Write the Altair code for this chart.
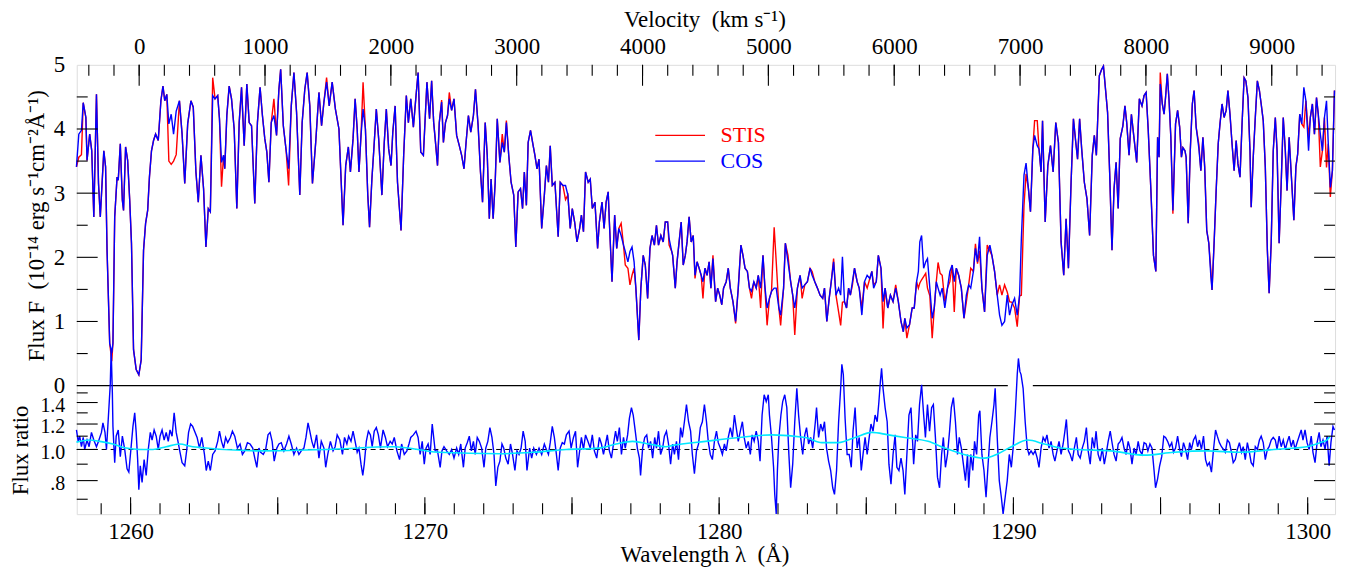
import altair as alt
import pandas as pd

W, H = 1263, 451          # plot area
H_FLUX = 322              # height of the upper (flux) panel inside the plot
LAM_MIN, LAM_MAX = 1258.17, 1300.93
V_MIN, V_MAX = -496, 9503
FONT = "Liberation Serif"
FS = 23
SP = "\u2002"

# ---------------- COS flux (wavelength [A], flux [1e-14 erg/s/cm2/A]) ----------------
cos_seg1 = [(1258.16,3.41),(1258.24,3.92),(1258.33,3.98),(1258.39,4.41),(1258.48,4.18),(1258.52,3.51),(1258.61,3.92),(1258.68,3.66),(1258.75,2.63),(1258.84,4.54),(1258.91,3.15),(1258.97,2.63),(1259.09,3.66),(1259.15,3.41),(1259.20,2.11),(1259.29,0.66),(1259.36,0.51),(1259.40,0.66),(1259.46,2.63),(1259.54,3.25),(1259.58,3.20),(1259.65,3.77),(1259.72,2.89),(1259.76,2.73),(1259.83,3.72),(1259.90,3.51),(1259.97,2.89),(1260.03,2.22),(1260.10,0.56),(1260.19,0.25),(1260.28,0.17),(1260.36,0.40),(1260.44,2.11),(1260.51,2.53),(1260.58,2.73),(1260.64,3.25),(1260.71,3.66),(1260.78,3.82),(1260.85,3.92),(1260.94,3.82),(1261.03,4.44),(1261.10,4.67),(1261.16,4.44),(1261.23,4.54),(1261.30,4.08),(1261.38,4.23),(1261.46,3.92),(1261.55,4.28),(1261.66,4.44),(1261.75,3.92),(1261.84,3.15),(1261.94,4.08),(1262.05,4.44),(1262.13,4.34)]
cos_seg2 = [(1262.22,3.33),(1262.30,2.86),(1262.39,3.59),(1262.48,3.07),(1262.56,2.16),(1262.64,2.76),(1262.71,2.71),(1262.79,4.52),(1262.87,4.47),(1262.96,4.52),(1263.02,4.16),(1263.09,3.48),(1263.16,3.59),(1263.20,3.38),(1263.27,4.21),(1263.35,4.67),(1263.43,4.47),(1263.52,4.00),(1263.61,2.76),(1263.69,4.10),(1263.77,4.65),(1263.86,3.74),(1263.95,4.70),(1264.03,4.10),(1264.11,4.05),(1264.22,2.84),(1264.31,4.10),(1264.40,4.65),(1264.48,4.21),(1264.56,3.85),(1264.63,3.64),(1264.70,3.17),(1264.78,4.10),(1264.87,4.21),(1264.96,3.90),(1265.04,4.62),(1265.10,4.93),(1265.19,4.05),(1265.28,3.69),(1265.37,3.38),(1265.46,4.36),(1265.55,4.88),(1265.64,4.26),(1265.75,2.97),(1265.83,4.10),(1265.92,4.62),(1266.00,4.88),(1266.09,4.36),(1266.18,3.15),(1266.29,3.79),(1266.40,4.57),(1266.49,4.05),(1266.57,4.42),(1266.66,4.73),(1266.75,4.36),(1266.85,4.73),(1266.96,4.31),(1267.08,4.00),(1267.22,2.50),(1267.31,3.43),(1267.40,3.72),(1267.47,3.33),(1267.56,3.85),(1267.63,4.47),(1267.70,4.00),(1267.76,3.33),(1267.83,3.90),(1267.90,4.31),(1267.98,4.00),(1268.06,2.97),(1268.12,2.47),(1268.20,3.22),(1268.26,3.64),(1268.35,4.31),(1268.43,3.85),(1268.54,2.97),(1268.62,3.79),(1268.69,4.31),(1268.77,3.69),(1268.85,3.43),(1268.91,3.95),(1268.99,4.36),(1269.07,3.17),(1269.19,2.42),(1269.28,3.59),(1269.37,4.52),(1269.44,4.10),(1269.52,4.47),(1269.61,4.03),(1269.70,4.52),(1269.77,4.88),(1269.86,3.64),(1269.95,3.59),(1270.07,4.73),(1270.16,4.16),(1270.23,4.75)]
cos_seg3 = [(1270.30,4.10),(1270.35,3.85),(1270.43,3.43),(1270.49,4.10),(1270.57,4.42),(1270.63,3.79),(1270.70,4.10),(1270.77,4.21),(1270.83,4.47),(1270.91,4.29),(1270.99,4.47),(1271.08,3.90),(1271.17,3.74),(1271.25,3.59),(1271.33,3.38),(1271.40,3.79),(1271.48,4.21),(1271.56,3.95),(1271.65,4.21),(1271.72,4.62),(1271.81,4.05),(1271.89,3.33),(1271.96,2.86),(1272.05,4.10),(1272.12,3.59),(1272.19,2.60),(1272.25,3.22),(1272.32,2.60),(1272.39,3.17),(1272.46,4.16),(1272.55,3.48),(1272.63,3.79),(1272.70,3.64),(1272.77,4.10),(1272.85,3.59),(1272.93,3.17),(1273.02,2.97),(1273.09,2.16),(1273.17,3.02),(1273.25,3.07),(1273.32,2.76),(1273.38,3.33),(1273.45,2.81),(1273.51,3.79),(1273.59,3.98),(1273.68,3.74),(1273.74,3.59),(1273.81,3.38),(1273.88,3.53),(1273.97,2.45),(1274.06,2.97),(1274.13,3.43),(1274.20,3.17),(1274.26,3.74),(1274.33,3.12),(1274.42,3.17),(1274.53,2.32),(1274.60,3.17),(1274.69,3.12),(1274.78,3.12),(1274.86,2.97),(1274.94,2.45),(1275.01,2.76),(1275.09,2.55),(1275.17,2.24),(1275.26,2.45),(1275.32,2.66),(1275.39,2.40),(1275.46,3.33),(1275.55,3.17),(1275.62,3.22),(1275.69,2.76),(1275.78,2.86),(1275.87,2.14),(1275.93,2.55),(1276.02,2.86),(1276.09,2.45),(1276.16,2.86),(1276.23,3.02),(1276.27,2.55),(1276.36,1.62),(1276.45,2.66),(1276.52,2.14),(1276.59,2.45),(1276.67,2.34),(1276.75,2.19),(1276.81,2.09),(1276.90,1.93),(1276.97,2.09),(1277.04,2.16),(1277.11,1.93),(1277.17,1.52),(1277.27,0.71),(1277.34,1.52),(1277.42,2.03),(1277.49,1.88),(1277.57,1.36),(1277.65,2.14),(1277.72,2.34),(1277.80,2.19),(1277.87,2.50),(1277.94,2.19),(1278.02,2.34),(1278.10,2.24),(1278.17,2.55),(1278.25,2.55),(1278.30,2.29),(1278.39,2.09)]
cos_seg4 = [(1278.42,2.03),(1278.51,1.52),(1278.57,1.93),(1278.64,2.24),(1278.71,2.55),(1278.78,1.88),(1278.85,2.03),(1278.91,2.24),(1278.98,2.63),(1279.05,2.24),(1279.12,2.34),(1279.18,1.72),(1279.25,1.93),(1279.32,1.83),(1279.39,1.72),(1279.45,1.62),(1279.52,1.83),(1279.59,1.72),(1279.66,1.93),(1279.72,1.52),(1279.79,1.98),(1279.88,1.31),(1279.95,1.52),(1280.02,1.41),(1280.09,1.26),(1280.15,1.52),(1280.24,1.62),(1280.31,1.83),(1280.38,1.52),(1280.47,1.31),(1280.56,1.00),(1280.65,1.52),(1280.74,2.19),(1280.81,2.03),(1280.88,1.83),(1280.96,1.78),(1281.03,1.52),(1281.10,1.47),(1281.18,1.62),(1281.26,1.52),(1281.33,1.72),(1281.41,1.52),(1281.49,2.03),(1281.55,1.57),(1281.63,1.21),(1281.71,1.36),(1281.78,1.47),(1281.87,1.52),(1281.94,1.52),(1282.03,1.21),(1282.09,1.10),(1282.19,1.52),(1282.25,2.22),(1282.34,1.93),(1282.43,1.62),(1282.50,1.41),(1282.57,1.21),(1282.66,1.52),(1282.75,1.72),(1282.82,1.52),(1282.91,1.57),(1283.00,1.62),(1283.09,1.83),(1283.16,1.72),(1283.25,1.62),(1283.34,1.52),(1283.43,1.41),(1283.52,1.36),(1283.58,1.52),(1283.66,1.00),(1283.74,1.36),(1283.81,1.62),(1283.89,1.93),(1283.97,1.41),(1284.06,1.52),(1284.13,1.41),(1284.19,2.01),(1284.26,1.31),(1284.33,1.21),(1284.40,1.52),(1284.46,1.41),(1284.53,1.62),(1284.60,1.83),(1284.69,1.62),(1284.76,1.52),(1284.85,1.10),(1284.94,1.62),(1285.03,1.72),(1285.12,1.67),(1285.19,1.78),(1285.25,1.52),(1285.34,1.62),(1285.41,2.03),(1285.50,1.83),(1285.57,1.31),(1285.64,1.52),(1285.73,1.21),(1285.82,1.41),(1285.91,1.31),(1286.00,1.52),(1286.09,1.31),(1286.18,1.00),(1286.26,0.84),(1286.31,1.05),(1286.38,0.90),(1286.47,0.95),(1286.56,1.21)]
cos_seg5 = [(1286.63,1.21),(1286.71,1.62),(1286.77,1.78),(1286.82,2.24),(1286.88,2.34),(1286.95,1.83),(1287.02,1.93),(1287.08,1.98),(1287.16,1.52),(1287.24,1.05),(1287.31,1.21),(1287.38,1.62),(1287.44,1.52),(1287.51,1.41),(1287.58,1.52),(1287.67,1.21),(1287.76,1.52),(1287.84,1.78),(1287.92,1.88),(1287.99,1.62),(1288.06,1.83),(1288.14,1.72),(1288.23,1.52),(1288.32,1.05),(1288.40,1.41),(1288.48,1.57),(1288.55,1.52),(1288.64,1.78),(1288.71,2.14),(1288.78,1.93),(1288.85,2.32),(1288.93,1.52),(1289.02,1.15),(1289.11,2.03),(1289.20,2.19),(1289.27,2.03),(1289.36,1.78),(1289.45,1.41),(1289.53,1.10),(1289.61,0.94),(1289.70,1.00),(1289.79,1.41),(1289.87,1.10),(1289.95,1.26),(1290.04,1.36),(1290.13,1.10),(1290.21,1.41),(1290.27,2.29),(1290.36,3.28),(1290.43,3.47),(1290.51,3.07),(1290.58,2.71),(1290.66,3.69),(1290.72,3.90),(1290.81,3.74),(1290.87,3.69),(1290.94,3.33),(1290.99,4.13),(1291.08,2.55),(1291.17,3.43),(1291.26,3.74),(1291.35,3.33),(1291.44,4.10),(1291.53,3.79),(1291.62,2.24),(1291.71,1.72),(1291.79,2.60),(1291.87,1.83),(1291.96,3.17),(1292.04,4.16),(1292.12,3.79),(1292.18,3.53),(1292.25,4.16),(1292.32,3.69),(1292.41,3.17),(1292.50,2.91),(1292.59,2.34),(1292.68,3.59),(1292.75,3.90),(1292.82,3.59),(1292.92,4.83),(1293.00,4.93),(1293.06,4.98),(1293.13,4.62),(1293.20,4.26),(1293.27,3.33),(1293.35,2.11),(1293.42,3.07),(1293.49,3.48),(1293.56,2.76),(1293.63,3.85),(1293.72,4.05),(1293.79,4.36),(1293.85,4.10),(1293.93,3.59),(1294.01,4.23),(1294.10,3.85),(1294.19,3.48),(1294.28,4.47),(1294.37,4.36),(1294.44,4.52),(1294.51,4.57),(1294.58,4.00),(1294.67,3.07),(1294.76,2.03),(1294.84,1.78)]
cos_seg6 = [(1294.90,3.87),(1294.95,3.56),(1294.99,4.70),(1295.06,4.39),(1295.12,4.23),(1295.17,4.49),(1295.23,4.86),(1295.29,4.44),(1295.35,3.87),(1295.42,2.73),(1295.51,4.08),(1295.58,4.29),(1295.65,4.03),(1295.71,3.56),(1295.76,3.71),(1295.83,3.66),(1295.87,3.56),(1295.94,2.53),(1296.01,3.66),(1296.08,4.39),(1296.14,4.60),(1296.21,4.03),(1296.30,3.71),(1296.37,3.35),(1296.44,3.87),(1296.50,3.41),(1296.57,2.42),(1296.64,2.22),(1296.71,1.70),(1296.75,1.49),(1296.82,2.22),(1296.89,3.04),(1296.96,3.77),(1297.02,4.08),(1297.09,4.39),(1297.16,4.18),(1297.23,4.29),(1297.29,4.60),(1297.36,4.23),(1297.43,3.77),(1297.50,3.35),(1297.57,3.82),(1297.63,3.46),(1297.70,3.25),(1297.77,4.08),(1297.84,4.80),(1297.90,4.75),(1297.97,4.49),(1298.04,3.66),(1298.08,2.78),(1298.15,3.56),(1298.22,4.18),(1298.29,4.75),(1298.36,4.60),(1298.42,4.39),(1298.49,4.13),(1298.56,3.41),(1298.63,2.11),(1298.69,1.44),(1298.76,2.22),(1298.83,3.66),(1298.90,4.18),(1298.96,3.66),(1299.03,2.22),(1299.10,3.15),(1299.17,4.18),(1299.24,3.66),(1299.30,3.04),(1299.37,3.87),(1299.46,3.15),(1299.53,2.58),(1299.60,3.41),(1299.66,3.61),(1299.73,4.23),(1299.80,4.08),(1299.87,4.65),(1299.94,4.44),(1300.03,3.66),(1300.09,4.18),(1300.16,4.39),(1300.23,3.92),(1300.30,4.49),(1300.36,4.23),(1300.43,3.92),(1300.50,3.66),(1300.57,4.18),(1300.64,4.44),(1300.70,3.77),(1300.77,3.09),(1300.84,3.35),(1300.91,4.60)]

# ---------------- STIS flux: identical to COS except where the red trace departs ----------------
stis_diff = [(1258.24,3.56),(1258.33,3.60),(1259.36,0.38),(1261.30,3.50),(1261.38,3.45),(1261.46,3.50),(1261.55,3.60),(1262.79,4.80),(1263.09,3.10),(1264.87,4.47),(1265.37,3.12),(1266.66,4.80),(1267.90,4.73),(1270.57,4.45),(1270.83,4.57),(1272.63,3.92),(1272.77,4.13),(1274.78,2.90),(1276.67,2.53),(1276.81,1.88),(1276.90,1.83),(1276.97,1.57),(1277.04,1.72),(1277.11,1.83),(1278.30,2.19),(1279.18,1.67),(1279.45,1.36),(1279.79,2.03),(1280.56,0.97),(1281.10,1.36),(1281.41,1.21),(1281.63,0.94),(1281.87,2.47),(1281.94,1.93),(1282.09,0.94),(1282.34,2.03),(1282.57,0.79),(1282.82,1.36),(1283.16,1.78),(1283.89,1.98),(1284.06,1.15),(1284.13,0.94),(1284.19,1.30),(1284.53,1.57),(1284.85,1.21),(1285.03,1.52),(1285.25,1.57),(1285.57,0.89),(1286.00,1.57),(1286.38,0.74),(1286.77,1.52),(1286.82,1.60),(1286.88,1.65),(1286.95,1.70),(1287.02,1.75),(1287.08,1.52),(1287.16,1.40),(1287.24,0.74),(1287.31,1.20),(1287.44,1.92),(1287.51,1.75),(1287.58,1.72),(1287.67,1.31),(1287.84,1.62),(1287.99,1.15),(1288.06,1.83),(1288.40,1.30),(1288.55,1.83),(1288.71,2.21),(1288.78,1.90),(1288.85,2.10),(1289.11,2.19),(1289.20,2.10),(1289.53,1.57),(1289.61,1.41),(1289.70,1.57),(1289.79,1.46),(1289.87,1.31),(1289.95,1.30),(1290.04,1.21),(1290.13,0.92),(1290.21,1.40),(1290.27,1.41),(1290.36,2.81),(1290.43,3.30),(1290.72,4.13),(1290.81,4.13),(1294.99,4.88),(1295.42,2.68),(1296.30,3.77),(1296.71,1.80),(1299.87,4.03),(1300.03,3.87),(1300.43,3.41),(1300.64,3.40),(1300.77,2.94)]

# ---------------- Flux ratio (COS/STIS) ----------------
ratio_seg1 = [(1258.16,1.15),(1258.22,1.06),(1258.27,1.10),(1258.33,1.02),(1258.39,1.09),(1258.44,1.00),(1258.52,1.07),(1258.59,1.02),(1258.67,1.13),(1258.75,1.07),(1258.84,1.02),(1258.91,1.06),(1259.01,1.13),(1259.06,1.21),(1259.13,1.13),(1259.18,1.00),(1259.24,1.24),(1259.31,1.60),(1259.34,2.05),(1259.38,1.50),(1259.40,1.18),(1259.46,0.91),(1259.51,1.10),(1259.58,1.15),(1259.65,0.95),(1259.72,1.10),(1259.80,1.00),(1259.88,0.87),(1259.94,0.85),(1260.01,1.00),(1260.08,1.18),(1260.14,1.30),(1260.19,1.13),(1260.24,0.93),(1260.28,0.75),(1260.33,0.89),(1260.39,0.79),(1260.46,0.93),(1260.53,0.83),(1260.60,1.00),(1260.67,1.13),(1260.73,1.07),(1260.80,1.15),(1260.87,1.10),(1260.94,1.00),(1261.00,1.10),(1261.07,1.15),(1261.14,1.07),(1261.21,1.13),(1261.28,1.06),(1261.34,1.15),(1261.41,1.10),(1261.48,1.30),(1261.55,1.13),(1261.61,1.06),(1261.68,0.98),(1261.75,0.91),(1261.84,0.89),(1261.91,1.00),(1261.97,1.13),(1262.04,1.20),(1262.11,1.18)]
ratio_seg2 = [(1262.26,1.09),(1262.34,1.01),(1262.42,1.09),(1262.51,0.965),(1262.57,0.86),(1262.64,0.92),(1262.71,0.86),(1262.79,0.965),(1262.87,0.99),(1262.96,1.06),(1263.02,1.14),(1263.09,1.06),(1263.16,1.01),(1263.23,1.09),(1263.30,1.05),(1263.39,1.09),(1263.46,1.14),(1263.54,1.10),(1263.63,1.01),(1263.72,1.04),(1263.80,0.965),(1263.88,0.99),(1263.97,1.05),(1264.06,1.04),(1264.15,1.01),(1264.22,0.94),(1264.29,0.88),(1264.36,1.01),(1264.42,0.98),(1264.51,0.965),(1264.59,1.00),(1264.67,1.11),(1264.74,1.13),(1264.81,1.06),(1264.88,0.92),(1264.97,1.01),(1265.04,1.04),(1265.12,1.05),(1265.21,0.99),(1265.30,1.04),(1265.38,1.10),(1265.46,1.04),(1265.55,0.965),(1265.64,1.01),(1265.72,0.965),(1265.80,0.99),(1265.89,1.01),(1265.96,1.09),(1266.03,1.21),(1266.09,1.14),(1266.16,1.06),(1266.23,1.01),(1266.32,1.11),(1266.40,0.94),(1266.48,1.06),(1266.57,1.01),(1266.63,0.88),(1266.70,0.965),(1266.79,1.06),(1266.88,0.99),(1266.95,1.02),(1267.02,1.11),(1267.11,1.07),(1267.20,0.965),(1267.27,1.09),(1267.35,1.04),(1267.41,1.10),(1267.49,1.06),(1267.56,1.14),(1267.63,1.06),(1267.70,0.98),(1267.76,1.01),(1267.83,0.90),(1267.89,0.83),(1267.94,0.90),(1268.01,1.06),(1268.08,1.14),(1268.15,1.11),(1268.21,1.02),(1268.28,1.14),(1268.35,1.17),(1268.42,1.11),(1268.49,1.01),(1268.58,1.15),(1268.66,1.09),(1268.73,1.02),(1268.82,1.06),(1268.89,1.04),(1268.96,1.09),(1269.05,0.99),(1269.14,0.93),(1269.21,1.04),(1269.30,0.965),(1269.39,0.99),(1269.46,1.04),(1269.52,1.09),(1269.61,1.11),(1269.70,1.14),(1269.77,1.09),(1269.84,0.965),(1269.91,1.06),(1269.98,0.90),(1270.04,1.01),(1270.11,1.04),(1270.18,0.965),(1270.25,1.20)]
ratio_seg3 = [(1270.35,0.99),(1270.43,0.99),(1270.52,0.88),(1270.58,0.99),(1270.65,1.02),(1270.74,0.99),(1270.83,0.965),(1270.91,1.00),(1270.99,0.94),(1271.08,1.01),(1271.15,0.965),(1271.22,1.04),(1271.31,0.88),(1271.37,1.01),(1271.44,1.05),(1271.51,1.10),(1271.58,0.99),(1271.65,1.06),(1271.71,0.965),(1271.78,1.09),(1271.85,1.06),(1271.93,1.01),(1272.01,0.88),(1272.07,1.01),(1272.14,1.06),(1272.21,1.17),(1272.28,1.09),(1272.35,0.965),(1272.41,0.77),(1272.48,0.88),(1272.55,0.92),(1272.62,1.04),(1272.68,1.01),(1272.75,0.94),(1272.83,0.90),(1272.91,1.04),(1272.98,0.965),(1273.06,0.86),(1273.13,0.99),(1273.20,0.965),(1273.27,1.01),(1273.34,1.14),(1273.41,1.06),(1273.47,0.86),(1273.56,1.01),(1273.63,0.94),(1273.70,1.01),(1273.79,0.965),(1273.88,1.01),(1273.97,0.965),(1274.06,1.04),(1274.13,1.00),(1274.20,0.965),(1274.26,1.05),(1274.33,1.18),(1274.40,1.09),(1274.47,0.965),(1274.53,0.86),(1274.60,1.01),(1274.67,1.05),(1274.74,1.04),(1274.81,1.11),(1274.90,1.14),(1274.97,1.01),(1275.05,1.09),(1275.12,1.14),(1275.19,0.88),(1275.26,0.99),(1275.32,1.09),(1275.39,1.00),(1275.46,1.11),(1275.54,1.06),(1275.62,1.01),(1275.69,1.11),(1275.76,0.99),(1275.84,0.94),(1275.93,1.09),(1276.00,1.04),(1276.07,0.965),(1276.14,1.04),(1276.20,1.11),(1276.27,0.99),(1276.34,0.94),(1276.41,1.04),(1276.48,1.14),(1276.54,1.06),(1276.61,1.17),(1276.68,0.965),(1276.75,1.09),(1276.81,1.01),(1276.89,1.11),(1276.95,1.25),(1277.02,1.35),(1277.08,1.28),(1277.15,1.14),(1277.22,1.01),(1277.29,0.94),(1277.33,0.83),(1277.40,1.01),(1277.47,1.09),(1277.54,1.11),(1277.60,1.01),(1277.67,1.06),(1277.74,0.94),(1277.81,1.09),(1277.87,1.01),(1277.94,1.14),(1278.01,0.965),(1278.08,1.01),(1278.14,1.10),(1278.21,1.14),(1278.28,1.04),(1278.35,0.90)]
ratio_seg4 = [(1278.42,1.04),(1278.48,0.965),(1278.55,1.06),(1278.62,0.93),(1278.69,1.17),(1278.75,1.09),(1278.82,1.22),(1278.89,1.38),(1278.96,1.22),(1279.03,1.14),(1279.09,0.965),(1279.16,0.84),(1279.23,0.99),(1279.30,1.04),(1279.36,1.17),(1279.43,1.22),(1279.50,1.38),(1279.57,1.22),(1279.63,1.06),(1279.70,0.965),(1279.77,0.93),(1279.84,1.06),(1279.91,1.14),(1279.97,1.05),(1280.04,1.01),(1280.11,0.965),(1280.18,1.04),(1280.24,0.99),(1280.31,1.09),(1280.38,1.17),(1280.45,1.09),(1280.52,1.28),(1280.58,1.17),(1280.65,1.06),(1280.72,1.14),(1280.79,1.22),(1280.85,1.09),(1280.92,1.01),(1280.99,1.06),(1281.06,0.965),(1281.12,1.11),(1281.19,1.06),(1281.26,1.14),(1281.33,1.06),(1281.39,0.92),(1281.46,1.28),(1281.53,1.48),(1281.60,1.41),(1281.67,1.48),(1281.71,1.28),(1281.78,1.09),(1281.85,0.88),(1281.89,0.725),(1281.94,0.63),(1281.98,0.86),(1282.03,1.09),(1282.10,1.28),(1282.16,1.41),(1282.23,1.48),(1282.30,1.35),(1282.37,0.965),(1282.43,0.76),(1282.50,0.90),(1282.57,1.22),(1282.64,1.55),(1282.70,1.28),(1282.77,1.09),(1282.84,0.965),(1282.91,1.11),(1282.97,1.17),(1283.04,1.04),(1283.11,1.09),(1283.18,1.01),(1283.27,1.22),(1283.31,1.35),(1283.38,1.09),(1283.45,1.20),(1283.52,1.14),(1283.58,1.22),(1283.65,1.01),(1283.72,0.92),(1283.79,0.86),(1283.86,0.76),(1283.92,0.725),(1283.99,0.86),(1284.06,1.22),(1284.13,1.55),(1284.17,1.84),(1284.22,1.71),(1284.28,1.25),(1284.35,0.965),(1284.42,0.965),(1284.49,0.88),(1284.55,1.14),(1284.62,1.35),(1284.69,1.01),(1284.76,1.09),(1284.83,0.86),(1284.89,0.965),(1284.96,1.09),(1285.03,0.965),(1285.10,1.09),(1285.16,1.20),(1285.23,1.14),(1285.30,1.28),(1285.37,1.22),(1285.43,1.41),(1285.48,1.63),(1285.52,1.79),(1285.57,1.55),(1285.64,1.35),(1285.71,1.22),(1285.77,0.90),(1285.84,0.78),(1285.91,0.965),(1285.98,1.11),(1286.04,0.88),(1286.11,0.86),(1286.18,0.94),(1286.25,0.86),(1286.31,0.725),(1286.38,0.965),(1286.45,1.28),(1286.52,1.35)]
ratio_seg5 = [(1286.61,0.90),(1286.68,1.11),(1286.74,1.06),(1286.81,1.38),(1286.88,1.59),(1286.95,1.28),(1287.01,1.09),(1287.08,1.38),(1287.15,1.14),(1287.22,1.35),(1287.28,1.38),(1287.35,1.09),(1287.42,0.82),(1287.49,0.76),(1287.56,0.965),(1287.62,1.09),(1287.69,0.88),(1287.76,0.965),(1287.83,1.14),(1287.89,1.35),(1287.96,1.45),(1288.03,1.22),(1288.10,0.965),(1288.16,1.09),(1288.23,1.01),(1288.30,0.90),(1288.37,0.80),(1288.44,0.965),(1288.48,0.76),(1288.55,0.965),(1288.62,0.86),(1288.68,1.06),(1288.75,0.965),(1288.82,1.28),(1288.86,1.32),(1288.93,0.965),(1289.00,0.86),(1289.07,0.71),(1289.14,0.90),(1289.20,1.09),(1289.27,1.22),(1289.34,1.38),(1289.38,1.55),(1289.45,1.09),(1289.52,0.80),(1289.59,0.71),(1289.65,0.63),(1289.72,0.71),(1289.79,0.80),(1289.86,0.965),(1289.93,0.88),(1289.99,1.01),(1290.06,1.28),(1290.13,1.71),(1290.17,1.92),(1290.22,1.75),(1290.26,1.71),(1290.33,1.55),(1290.40,1.22),(1290.47,1.01),(1290.53,0.965),(1290.60,0.99),(1290.67,0.965),(1290.74,0.99),(1290.81,0.94),(1290.87,0.88),(1290.94,1.01),(1291.01,1.09),(1291.08,1.06),(1291.14,1.11),(1291.21,1.01),(1291.28,1.06),(1291.35,0.965),(1291.41,0.92),(1291.48,0.99),(1291.55,1.06),(1291.62,0.965),(1291.69,1.04),(1291.75,1.14),(1291.80,1.24),(1291.87,0.99),(1291.93,0.965),(1292.00,0.92),(1292.07,1.01),(1292.14,1.09),(1292.20,0.965),(1292.27,0.94),(1292.34,1.01),(1292.41,1.06),(1292.48,1.17),(1292.54,0.99),(1292.61,0.90),(1292.68,1.09),(1292.75,1.01),(1292.81,1.14),(1292.88,0.965),(1292.95,0.92),(1293.02,1.01),(1293.09,0.90),(1293.15,0.965),(1293.22,1.06),(1293.29,1.14),(1293.36,1.04),(1293.42,0.965),(1293.49,0.92),(1293.56,1.04),(1293.63,1.06),(1293.69,1.09),(1293.76,1.01),(1293.83,0.965),(1293.90,1.06),(1293.96,1.01),(1294.03,0.90),(1294.10,1.01),(1294.17,0.965),(1294.24,1.06),(1294.30,0.99),(1294.37,0.965),(1294.44,1.05),(1294.51,1.04),(1294.57,0.99),(1294.64,1.04),(1294.71,1.01),(1294.78,0.86),(1294.83,0.76)]
ratio_seg6 = [(1294.90,0.81),(1294.97,0.89),(1295.04,0.95),(1295.11,1.10),(1295.17,1.09),(1295.24,1.06),(1295.31,1.02),(1295.38,1.05),(1295.44,0.98),(1295.51,1.01),(1295.58,1.10),(1295.65,1.00),(1295.71,0.95),(1295.78,1.05),(1295.85,1.00),(1295.92,0.93),(1295.99,1.05),(1296.05,1.00),(1296.12,1.07),(1296.19,1.10),(1296.26,1.02),(1296.32,1.07),(1296.39,1.00),(1296.46,1.10),(1296.53,0.93),(1296.59,0.89),(1296.66,0.91),(1296.73,0.85),(1296.80,1.00),(1296.87,1.15),(1296.93,1.10),(1297.00,1.05),(1297.07,1.02),(1297.14,1.00),(1297.20,0.98),(1297.27,1.07),(1297.34,1.05),(1297.41,0.98),(1297.47,0.91),(1297.54,0.93),(1297.61,1.00),(1297.68,1.05),(1297.75,0.98),(1297.81,1.02),(1297.88,0.93),(1297.95,1.05),(1298.02,0.98),(1298.08,0.91),(1298.15,0.89),(1298.22,1.02),(1298.29,1.00),(1298.36,1.07),(1298.42,1.10),(1298.49,1.05),(1298.56,0.93),(1298.63,1.00),(1298.69,1.02),(1298.76,1.07),(1298.83,1.09),(1298.90,1.07),(1298.96,1.00),(1299.03,1.10),(1299.10,1.02),(1299.17,1.07),(1299.24,1.00),(1299.30,1.05),(1299.37,1.10),(1299.44,1.02),(1299.51,1.07),(1299.57,1.00),(1299.64,1.05),(1299.71,1.10),(1299.78,1.15),(1299.84,1.07),(1299.91,1.15),(1299.98,1.05),(1300.05,1.00),(1300.12,1.10),(1300.18,0.98),(1300.25,0.91),(1300.32,1.05),(1300.39,1.13),(1300.45,1.02),(1300.52,1.07),(1300.59,1.00),(1300.66,1.10),(1300.73,0.89),(1300.79,1.05),(1300.86,1.18),(1300.91,1.15)]

# smooth (cyan) curve through the ratio
smooth_pts = [(1258.16,1.054),(1258.61,1.07),(1258.95,1.06),(1259.40,1.04),(1259.85,1.01),(1260.31,1.00),(1260.76,1.00),(1261.21,1.02),(1261.66,1.04),(1262.11,1.02),(1264.42,0.99),(1266.68,1.00),(1268.94,1.02),(1270.46,0.98),(1272.55,0.97),(1273.68,0.98),(1274.80,1.00),(1275.93,1.01),(1276.50,1.04),(1277.06,1.06),(1277.63,1.04),(1278.19,1.02),(1278.42,1.03),(1279.54,1.06),(1280.67,1.09),(1281.80,1.11),(1282.93,1.09),(1283.49,1.05),(1284.06,1.05),(1284.62,1.09),(1285.19,1.13),(1285.75,1.11),(1286.31,1.09),(1287.10,1.06),(1287.67,1.01),(1288.23,0.97),(1289.02,0.94),(1289.48,0.97),(1289.93,1.02),(1290.49,1.07),(1291.05,1.04),(1291.62,1.01),(1292.18,1.00),(1293.31,0.99),(1294.44,0.96),(1295.46,0.98),(1296.58,0.99),(1297.71,0.98),(1298.84,1.00),(1299.97,1.02),(1300.42,1.05),(1300.65,1.07),(1300.76,1.10)]

# tick values
lam_minor = list(range(1259, 1301))
lam_major = list(range(1260, 1301, 5))
lam_labels = [1260, 1270, 1280, 1290, 1300]
vel_minor = list(range(-400, 9501, 200))
vel_major = list(range(0, 9001, 1000))
flux_minor = [0.5, 1.5, 2.5, 3.5, 4.5]
flux_major = [1, 2, 3, 4]
flux_labels = [0, 1, 2, 3, 4, 5]
ratio_minor = [0.7, 0.9, 1.1, 1.3, 1.5]
ratio_major = [0.8, 1.0, 1.2, 1.4]

# zero line (interrupted where the ratio spike crosses it)
zero_start = [LAM_MIN, 1290.66]
zero_end = [1289.81, LAM_MAX]

# legend
leg_names = ["STIS", "COS"]
leg_colors = ["#ff0000", "#0000ff"]
leg_flux = [3.90, 3.50]
leg_line_start = 1277.83
leg_line_end = 1279.52
leg_text_lam = 1280.05

# ---------------- build tables ----------------
cos_pts = cos_seg1 + cos_seg2 + cos_seg3 + cos_seg4 + cos_seg5 + cos_seg6
stis_map = {l: f for l, f in cos_pts}
for l, f in stis_diff:
    stis_map[l] = f
stis_pts = sorted(stis_map.items())
ratio_pts = ratio_seg1 + ratio_seg2 + ratio_seg3 + ratio_seg4 + ratio_seg5 + ratio_seg6

df_cos = pd.DataFrame(cos_pts, columns=["lam", "f"])
df_stis = pd.DataFrame(stis_pts, columns=["lam", "f"])
df_ratio = pd.DataFrame(ratio_pts, columns=["lam", "r"])
df_smooth = pd.DataFrame(smooth_pts, columns=["lam", "r"])
df_zero = pd.DataFrame({"lam": zero_start, "lam2": zero_end, "f": [0, 0]})
df_leg = pd.DataFrame({"lam": [leg_line_start] * 2, "lam2": [leg_line_end] * 2,
                       "lt": [leg_text_lam] * 2, "f": leg_flux,
                       "name": leg_names, "col": leg_colors})

# ---------------- scales & axes ----------------
x_scale = alt.Scale(domain=[LAM_MIN, LAM_MAX], nice=False, zero=False)
yf_scale = alt.Scale(domain=[0, 5], range=[H_FLUX, 0], nice=False, zero=False)
yr_scale = alt.Scale(type="log", domain=[0.629, 1.58], range=[H, H_FLUX], nice=False)
v_scale = alt.Scale(domain=[V_MIN, V_MAX], nice=False, zero=False)

def common(label_size=FS):
    return dict(ticks=False, tickSize=0, domain=False, grid=False, labelFont=FONT,
                labelFontSize=label_size, labelColor="black", labelFlush=False,
                labelOverlap=False, titleFont=FONT, titleFontSize=FS,
                titleFontWeight="normal", titleColor="black")

x_axis = alt.Axis(orient="bottom", values=lam_labels, format="d", labelPadding=6,
                  title=f"Wavelength λ{SP}(Å)", titleX=630, titleY=48,
                  titleBaseline="alphabetic", titleAlign="center", **common())
yf_axis = alt.Axis(orient="left", values=flux_labels, format="d", labelPadding=12,
                   title=f"Flux F{SP}(10⁻¹⁴ erg s⁻¹cm⁻²Å⁻¹)", titleX=-33, titleY=161,
                   titleBaseline="alphabetic", titleAlign="center", **common())
yr_axis = alt.Axis(orient="left", values=ratio_major, labelPadding=12, labelOffset=3,
                   labelExpr="datum.value < 0.9 ? '.8' : format(datum.value, '.1f')",
                   title="Flux ratio", titleX=-49, titleY=386.5,
                   titleBaseline="alphabetic", titleAlign="center", **common(20))
v_axis = alt.Axis(orient="top", values=vel_major, format="d", labelPadding=6,
                  title=f"Velocity{SP}(km s⁻¹)", titleX=630, titleY=-38,
                  titleBaseline="alphabetic", titleAlign="center", **common())

X = alt.X("lam:Q", scale=x_scale, axis=x_axis)
YF = alt.Y("f:Q", scale=yf_scale, axis=yf_axis)
XR = alt.X("lam:Q", scale=x_scale, axis=None)
YR = alt.Y("r:Q", scale=yr_scale, axis=yr_axis)
XV = alt.X("v:Q", scale=v_scale, axis=v_axis)

TICK = dict(color="black", strokeWidth=1.1)
MINOR, MAJOR = 11, 21

# ---------------- upper panel ----------------
zero_rule = alt.Chart(df_zero).mark_rule(color="black", strokeWidth=1.3).encode(
    x=X, x2="lam2:Q", y=YF)
stis_line = alt.Chart(df_stis).mark_line(color="#ff0000", strokeWidth=1.4).encode(x=X, y=YF)
cos_line = alt.Chart(df_cos).mark_line(color="#0000ff", strokeWidth=1.4).encode(x=X, y=YF)

def xticks(vals, length):
    return alt.Chart(pd.DataFrame({"lam": vals})).mark_rule(**TICK).encode(
        x=X, y=alt.value(H), y2=alt.value(H - length))

def side_ticks(vals, field, ych, length):
    df = pd.DataFrame({field: vals})
    left = alt.Chart(df).mark_rule(**TICK).encode(y=ych, x=alt.value(0), x2=alt.value(length))
    right = alt.Chart(df).mark_rule(**TICK).encode(y=ych, x=alt.value(W), x2=alt.value(W - length))
    return [left, right]

leg_rules = alt.Chart(df_leg).mark_rule(strokeWidth=1.3).encode(
    x=X, x2="lam2:Q", y=YF, color=alt.Color("col:N", scale=None))
leg_text = alt.Chart(df_leg).mark_text(align="left", baseline="middle", font=FONT,
                                       fontSize=22).encode(
    x=alt.X("lt:Q", scale=x_scale, axis=x_axis), y=YF, text="name:N",
    color=alt.Color("col:N", scale=None))

flux_layer = alt.layer(
    zero_rule, stis_line, cos_line,
    xticks(lam_minor, MINOR), xticks(lam_major, 17),
    *side_ticks(flux_minor, "f", YF, MINOR), *side_ticks(flux_major, "f", YF, MAJOR),
    leg_rules, leg_text,
)

# ---------------- lower panel ----------------
df_one = pd.DataFrame({"r": [1.0]})
dashed = alt.Chart(df_one).mark_rule(color="black", strokeWidth=1, strokeDash=[5, 4]).encode(y=YR)
ratio_line = alt.Chart(df_ratio).mark_line(color="#0000ff", strokeWidth=1.4).encode(x=XR, y=YR)
smooth_line = alt.Chart(df_smooth).mark_line(color="#00e8ff", strokeWidth=1.6,
                                             interpolate="monotone").encode(x=XR, y=YR)
ratio_layer = alt.layer(
    dashed, ratio_line, smooth_line,
    *side_ticks(ratio_minor, "r", YR, MINOR), *side_ticks(ratio_major, "r", YR, MAJOR),
)

# ---------------- velocity axis ----------------
vel_minor_t = alt.Chart(pd.DataFrame({"v": vel_minor})).mark_rule(**TICK).encode(
    x=XV, y=alt.value(0), y2=alt.value(MINOR))
vel_major_t = alt.Chart(pd.DataFrame({"v": vel_major})).mark_rule(**TICK).encode(
    x=XV, y=alt.value(0), y2=alt.value(MAJOR))
vel_layer = alt.layer(vel_minor_t, vel_major_t)

chart = alt.layer(flux_layer, ratio_layer, vel_layer).resolve_scale(
    x="independent", y="independent"
).properties(
    width=W, height=H,
    autosize=alt.AutoSizeParams(type="none"),
    padding={"left": 69, "top": 56, "right": 12, "bottom": 57},
).configure_view(stroke="#222222", strokeWidth=1.4).configure(background="white")

chart.save("out.html", embed_options={"renderer": "svg", "actions": False})
